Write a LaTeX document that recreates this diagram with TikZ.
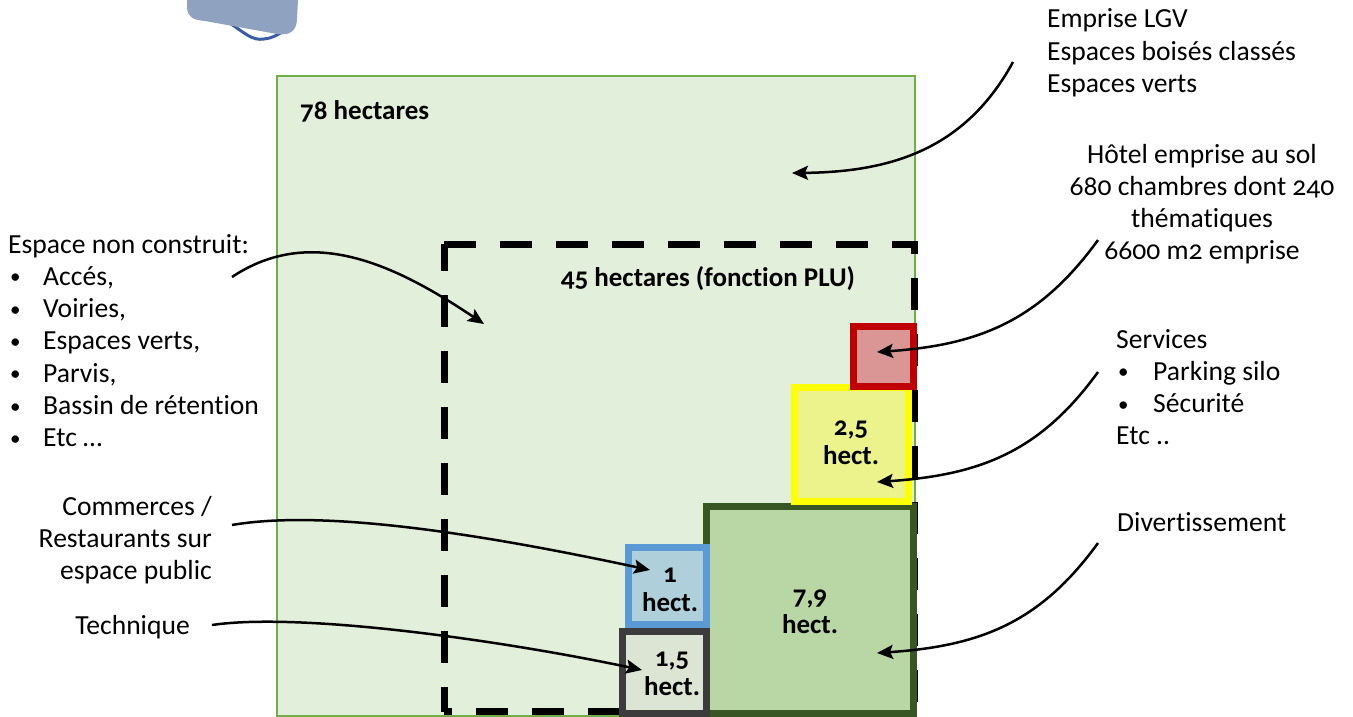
\documentclass[tikz,border=0pt]{standalone}
\usepackage{fontspec}
\setmainfont{Carlito}[Numbers=OldStyle, Ligatures=NoCommon]
\usetikzlibrary{arrows.meta}
\definecolor{outerfill}{HTML}{E2EFDA}
\definecolor{outerline}{HTML}{70AD47}
\definecolor{redline}{HTML}{C00000}
\definecolor{redfill}{HTML}{D99694}
\definecolor{yelline}{HTML}{FFFF00}
\definecolor{yelfill}{HTML}{ECF38C}
\definecolor{grnline}{HTML}{375623}
\definecolor{grnfill}{HTML}{B9D7A5}
\definecolor{bluline}{HTML}{5B9BD5}
\definecolor{blufill}{HTML}{AFD0DA}
\definecolor{gryline}{HTML}{3C3C3C}
\definecolor{gryfill}{HTML}{DCE4D4}
\definecolor{blobfill}{HTML}{8FA3C0}
\definecolor{blobline}{HTML}{3A5DA8}
\newcommand{\mybullet}[1]{\makebox[#1][l]{\hspace*{2pt}\raisebox{1.5pt}{\fontsize{21}{21}\selectfont•}}}
\begin{document}
\begin{tikzpicture}[x=1pt,y=-1pt,
  lbl/.style={font=\fontsize{27.6}{32.3}\selectfont, inner sep=0pt},
  blbl/.style={font=\fontsize{27}{29}\selectfont\bfseries, inner sep=0pt, align=center},
  arr/.style={line width=2.5pt, -{Stealth[length=16pt,width=14pt,inset=3pt]}},
  boxline/.style={line width=7pt},
  dashline/.style={line width=7pt, dash pattern=on 32pt off 24pt}]
\useasboundingbox (0,0) rectangle (1353,717);
% blob at top
\draw[blobline, line width=3pt] (228,22) .. controls (245,33) and (252,41) .. (264,39) .. controls (273,38) and (280,34) .. (287,28);
\fill[blobfill] (187,0) -- (187,8) .. controls (188,18) and (194,20) .. (205,21)
  -- (277,34) .. controls (291,36) and (297,30) .. (297,18) -- (298,0) -- cycle;
% outer area
\draw[outerline, fill=outerfill, line width=2.5pt] (277,76) rectangle (915,716);
% dashed PLU area
\draw[dashline] (444,244) -- (914,244) -- (914,711.5) -- (444,711.5);
\draw[dashline, dash phase=5pt] (444,244) -- (444,711.5);
% boxes
\draw[boxline, grnline, fill=grnfill] (706.5,506.5) rectangle (913.5,713.5);
\draw[boxline, yelline, fill=yelfill] (794.5,387.5) rectangle (908.5,501.5);
\draw[boxline, redline, fill=redfill] (853.5,326.5) rectangle (913.5,386.5);
\draw[boxline, bluline, fill=blufill] (628.5,547.5) rectangle (706.5,624.5);
\draw[boxline, gryline, fill=gryfill] (622.5,631.5) rectangle (706.5,713.5);
% labels in the plan
\node[lbl, font=\fontsize{27}{32.3}\selectfont\bfseries, anchor=base west] (h78) at (300,120) {78 hectares};
\node[lbl, font=\fontsize{27}{32.3}\selectfont\bfseries, anchor=base] (h45) at (708,286) {45 hectares (fonction PLU)};
\node[blbl] (b25) at (851,443) {2,5\\hect.};
\node[blbl] (b1) at (670,590) {1\\hect.};
\node[blbl] (b79) at (810,612) {7,9\\hect.};
\node[blbl] (b15) at (672,674) {1,5\\hect.};
% outside texts
\node[lbl, anchor=base west] (emprise) at (1047,28) {\begin{tabular}[t]{@{}l@{}}Emprise LGV\\Espaces boisés classés\\Espaces verts\end{tabular}};
\node[lbl, anchor=base] (hotel) at (1202,163) {\begin{tabular}[t]{@{}c@{}}Hôtel emprise au sol\\680 chambres dont 240\\thématiques\\6600 m2 emprise\end{tabular}};
\node[lbl, anchor=base west] (espace) at (8,253) {\begin{tabular}[t]{@{}l@{}}Espace non construit:\\\mybullet{35pt}Accés,\\\mybullet{35pt}Voiries,\\\mybullet{35pt}Espaces verts,\\\mybullet{35pt}Parvis,\\\mybullet{35pt}Bassin de rétention\\\mybullet{35pt}Etc …\end{tabular}};
\node[lbl, anchor=base west] (services) at (1116,348) {\begin{tabular}[t]{@{}l@{}}Services\\\mybullet{37pt}Parking silo\\\mybullet{37pt}Sécurité\\Etc ..\end{tabular}};
\node[lbl, anchor=base west] (divert) at (1117,531) {Divertissement};
\node[lbl, anchor=base east] (commerces) at (212,515) {\begin{tabular}[t]{@{}r@{}}Commerces /\\Restaurants sur\\espace public\end{tabular}};
\node[lbl, anchor=base east] (technique) at (190,634) {Technique};
% arrow ends
\coordinate (a1s) at (1013,62);   \coordinate (a1e) at (792,173);
\coordinate (a2s) at (232,277);   \coordinate (a2e) at (484,324);
\coordinate (a3s) at (1098,240);  \coordinate (a3e) at (877,352);
\coordinate (a4s) at (1098,372);  \coordinate (a4e) at (877,482);
\coordinate (a5s) at (1098,543);  \coordinate (a5e) at (877,653);
\coordinate (a6s) at (232,525);   \coordinate (a6e) at (650,570);
\coordinate (a7s) at (212,625);   \coordinate (a7e) at (642,670);
\draw[arr] (a1s) .. controls (965,150) and (890,172) .. (a1e);
\draw[arr] (a2s) .. controls (310,225) and (393,263) .. (a2e);
\draw[arr] (a3s) .. controls (1040,320) and (980,345) .. (a3e);
\draw[arr] (a4s) .. controls (1040,452) and (980,475) .. (a4e);
\draw[arr] (a5s) .. controls (1040,623) and (980,646) .. (a5e);
\draw[arr] (a6s) .. controls (330,508) and (500,538) .. (a6e);
\draw[arr] (a7s) .. controls (300,612) and (500,640) .. (a7e);
\end{tikzpicture}
\end{document}
